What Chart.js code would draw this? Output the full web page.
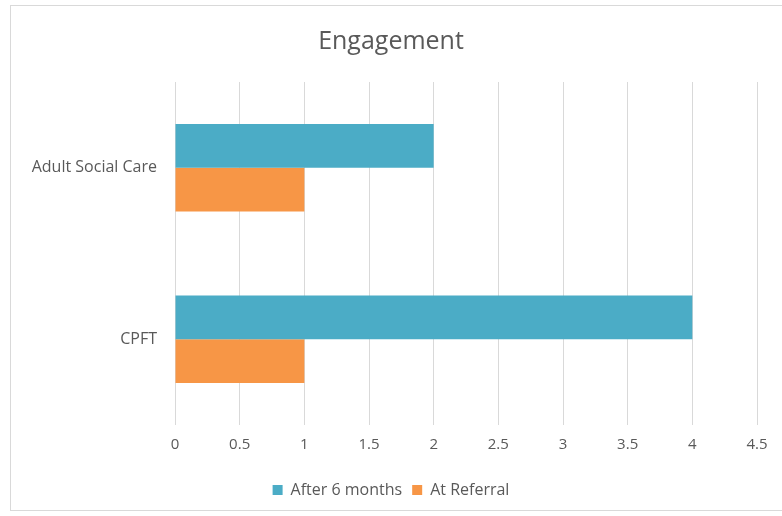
<!DOCTYPE html>
<html>
<head>
<meta charset="utf-8">
<script src="https://cdn.jsdelivr.net/npm/chart.js@4"></script>
<style>
  html, body { margin: 0; padding: 0; background: #fff; }
  #wrap { position: relative; width: 782px; height: 516px; }
  #frame { position: absolute; left: 10px; top: 5px; width: 780px; height: 506px; border: 1px solid #d9d9d9; box-sizing: border-box; pointer-events: none; }
</style>
</head>
<body>
<div id="wrap">
  <canvas id="engagementChart" width="782" height="516"></canvas>
  <div id="frame"></div>
</div>
<script>
const categories = ["Adult Social Care", "CPFT"];
const afterSixMonths = [2, 4];
const atReferral = [1, 1];
const seriesNames = ["After 6 months", "At Referral"];

const textColor = "#595959";
const gridColor = "#d9d9d9";

const ctx = document.getElementById("engagementChart").getContext("2d");

new Chart(ctx, {
  type: "bar",
  data: {
    labels: categories,
    datasets: [
      {
        label: seriesNames[0],
        data: afterSixMonths,
        backgroundColor: "#4bacc6",
        categoryPercentage: 0.51,
        barPercentage: 1.0
      },
      {
        label: seriesNames[1],
        data: atReferral,
        backgroundColor: "#f79646",
        categoryPercentage: 0.51,
        barPercentage: 1.0
      }
    ]
  },
  options: {
    indexAxis: "y",
    responsive: false,
    animation: false,
    layout: {
      padding: { left: 0, right: 0, top: 0, bottom: 8 }
    },
    plugins: {
      title: {
        display: true,
        text: "Engagement",
        color: textColor,
        font: { family: "Open Sans", size: 25, weight: "normal" },
        padding: { top: 27, bottom: 25 }
      },
      legend: {
        position: "bottom",
        labels: {
          color: textColor,
          boxWidth: 10,
          boxHeight: 10,
          padding: 10,
          font: { family: "Open Sans", size: 16 }
        }
      },
      tooltip: { enabled: false }
    },
    scales: {
      x: {
        min: 0,
        max: 4.5,
        ticks: {
          stepSize: 0.5,
          color: textColor,
          padding: 11,
          font: { family: "Open Sans", size: 15 },
          callback: function(value) {
            return String(value);
          }
        },
        grid: {
          color: gridColor,
          drawTicks: false
        },
        border: { display: false },
        afterFit: function(scale) {
          scale.height = 47;
        }
      },
      y: {
        ticks: {
          color: textColor,
          padding: 10,
          font: { family: "Open Sans", size: 16 }
        },
        grid: { display: false },
        border: { display: false },
        afterFit: function(scale) {
          scale.width = 175;
        }
      },
      yRight: {
        type: "category",
        labels: categories,
        position: "right",
        ticks: { display: false },
        grid: { display: false },
        border: { display: false },
        afterFit: function(scale) {
          scale.width = 25;
        }
      }
    }
  }
});
</script>
</body>
</html>
